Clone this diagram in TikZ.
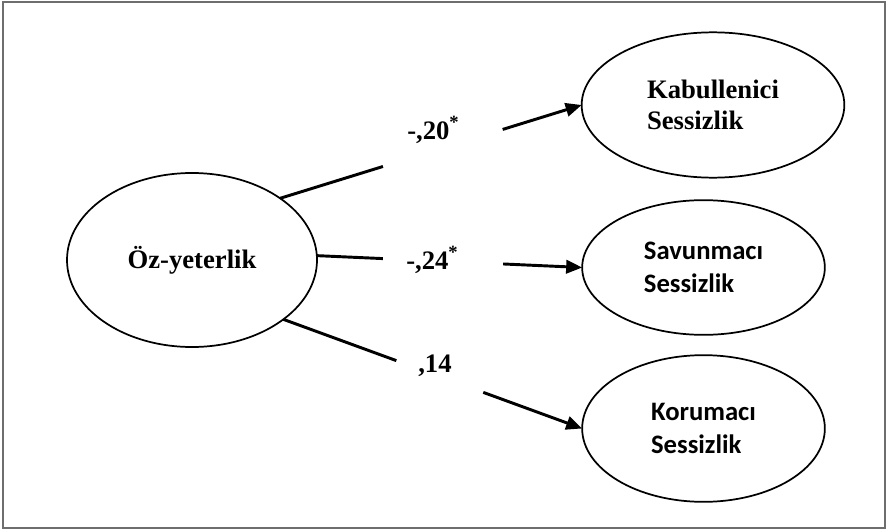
\documentclass[tikz,border=0pt]{standalone}
\usepackage{fontspec}
\setmainfont{Liberation Serif}
\newfontfamily\calfont{Carlito}
\usetikzlibrary{shapes.geometric,arrows.meta}
\tikzset{
  latent/.style={ellipse, draw, line width=1.3pt, inner sep=0pt, outer sep=0pt, align=left, font=\fontsize{20}{23}\selectfont\bfseries},
  latentsans/.style={latent, font=\fontsize{20}{24.5}\selectfont\bfseries\calfont},
  link/.style={line width=2.2pt},
  linkarrow/.style={link, -{Triangle[length=12pt,width=10pt]}},
  coef/.style={anchor=base west, inner sep=0pt, font=\fontsize{20}{24}\selectfont\bfseries}
}
\begin{document}
\begin{tikzpicture}[x=0.75pt,y=-0.75pt]
\useasboundingbox (0,0) rectangle (887,531);
\definecolor{framecol}{HTML}{6E6E6E}
\draw[framecol, line width=1.2pt] (3,2) rectangle (885,528);
\node[latent, minimum width=187.5pt, minimum height=130.5pt] (oz) at (192,260) {Öz-yeterlik};
\node[latent, minimum width=197pt, minimum height=109pt] (kab) at (713,105) {Kabullenici\\Sessizlik};
\node[latentsans, minimum width=182pt, minimum height=101pt] (sav) at (703.5,267.5) {Savunmacı\\Sessizlik};
\node[latentsans, minimum width=182pt, minimum height=110pt] (kor) at (703.5,428.5) {Korumacı\\Sessizlik};
\path (oz.35) -- (kab.west) coordinate[pos=.341] (kab1) coordinate[pos=.738] (kab2);
\path (oz.2) -- (sav.west) coordinate[pos=.249] (sav1) coordinate[pos=.702] (sav2);
\path (oz.-33) -- (kor.west) coordinate[pos=.378] (kor1) coordinate[pos=.669] (kor2);
\draw[link] (oz.35) -- (kab1);
\draw[linkarrow] (kab2) -- (kab.west);
\draw[link] (oz.2) -- (sav1);
\draw[linkarrow] (sav2) -- (sav.west);
\draw[link] (oz.-33) -- (kor1);
\draw[linkarrow] (kor2) -- (kor.west);
\node[coef] (kabcoef) at (407,139) {-,20\textsuperscript{*}};
\node[coef] (savcoef) at (406,269) {-,24\textsuperscript{*}};
\node[coef] (korcoef) at (418,372) {,14};
\end{tikzpicture}
\end{document}
